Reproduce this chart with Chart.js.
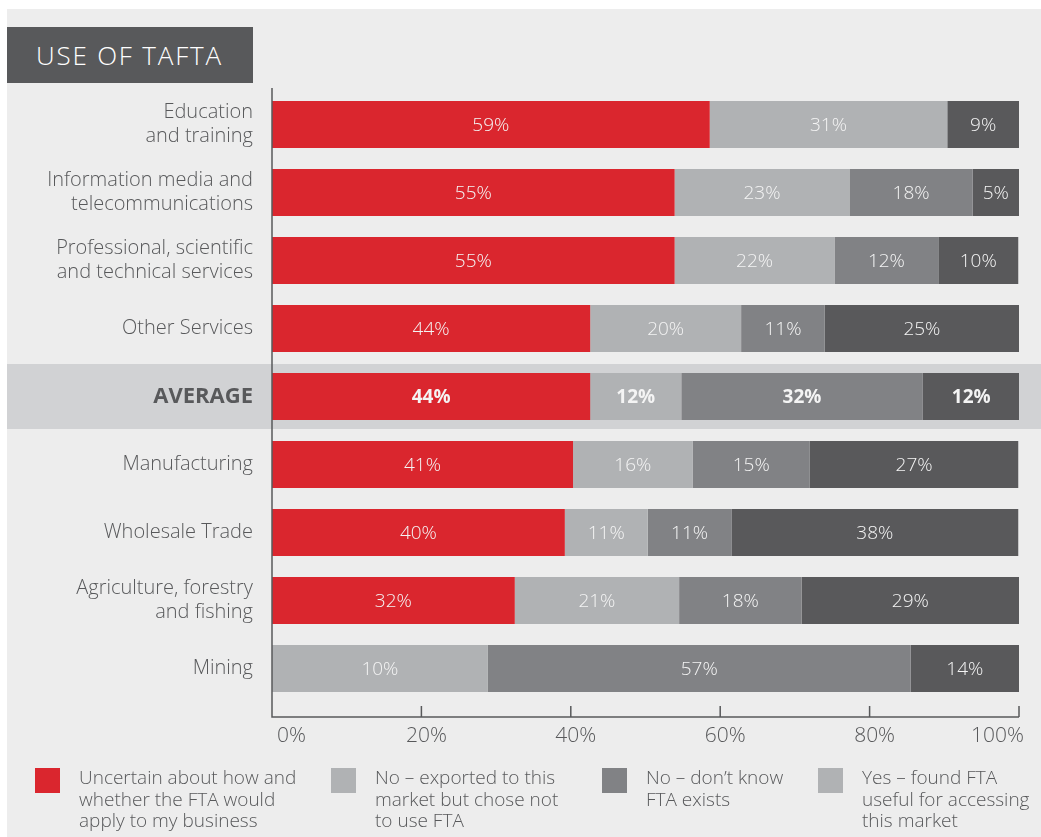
<!DOCTYPE html>
<html>
<head>
<meta charset="utf-8">
<title>Use of TAFTA</title>
<script src="https://cdn.jsdelivr.net/npm/chart.js@4.4.0/dist/chart.umd.min.js"></script>
<style>
    html, body { margin: 0; padding: 0; background: #fff; }
    body { width: 1041px; height: 837px; position: relative; overflow: hidden; font-family: 'Open Sans', Roboto, sans-serif; }
    #panel { position: absolute; left: 7px; top: 9px; right: 0; bottom: 0; background: #ededed; }
    #titulo { position: absolute; left: 7px; top: 27px; width: 246px; height: 56px; background: #58595b; color: #fff;
        font-size: 26px; font-weight: 300; letter-spacing: 1.8px; display: flex; align-items: center; padding-left: 29px; box-sizing: border-box; }
    #grafica { position: absolute; left: 0; top: 0; }
    .item { position: absolute; top: 767px; }
    .item .caja { position: absolute; left: 0; top: 1px; width: 25px; height: 25px; }
    .item .texto { position: absolute; left: 44px; top: 0; white-space: nowrap; font-size: 19px; line-height: 21.5px; color: #58595b; font-weight: 300; }
</style>
</head>
<body>
<div id="panel"></div>
<div id="titulo">USE OF TAFTA</div>
<canvas id="grafica" width="1041" height="837"></canvas>
<div id="leyenda"></div>

<script>
const categorias = [
    ['Education', 'and training'],
    ['Information media and', 'telecommunications'],
    ['Professional, scientific', 'and technical services'],
    'Other Services',
    'AVERAGE',
    'Manufacturing',
    'Wholesale Trade',
    ['Agriculture, forestry', 'and fishing'],
    'Mining'
];

const series = [
    ['Uncertain about how and', 'whether the FTA would', 'apply to my business'],
    ['No – exported to this', 'market but chose not', 'to use FTA'],
    ['No – don’t know', 'FTA exists'],
    ['Yes – found FTA', 'useful for accessing', 'this market']
];

// largo de cada barra
const incierto = [58.6, 53.9, 53.9, 42.6, 42.6, 40.3, 39.2, 32.5, 0];
const noUsoFTA = [31.8, 23.4, 21.4, 20.2, 12.2, 16.0, 11.1, 22.0, 28.9];
const noSabe = [0, 16.5, 13.9, 11.2, 32.3, 15.7, 11.2, 16.4, 56.6];
const siUtil = [9.6, 6.2, 10.7, 26.0, 13.0, 27.9, 38.4, 29.1, 14.5];

// porcentajes impresos sobre las barras
const textoIncierto = [59, 55, 55, 44, 44, 41, 40, 32, null];
const textoNoUso = [31, 23, 22, 20, 12, 16, 11, 21, 10];
const textoNoSabe = [null, 18, 12, 11, 32, 15, 11, 18, 57];
const textoSi = [9, 5, 10, 25, 12, 27, 38, 29, 14];

const ticksX = [0, 20, 40, 60, 80, 100];

const colores = ['#da262e', '#b0b2b4', '#818285', '#59595b'];
const coloresLeyenda = ['#da262e', '#b0b2b4', '#818285', '#b0b2b4'];
const filaPromedio = 4;
const gris = '#58595b';
const fuente = "'Open Sans', Roboto, sans-serif";

const valores = [incierto, noUsoFTA, noSabe, siUtil];
const textos = [textoIncierto, textoNoUso, textoNoSabe, textoSi];

const fondoPromedio = {
    id: 'fondoPromedio',
    beforeDraw(chart) {
        const { ctx, scales: { y } } = chart;
        const paso = y.getPixelForValue(1) - y.getPixelForValue(0);
        const alto = paso * 0.956;
        const centro = y.getPixelForValue(filaPromedio);
        ctx.save();
        ctx.fillStyle = '#d1d2d4';
        ctx.fillRect(7, centro - alto / 2, chart.width - 7, alto);
        ctx.restore();
    }
};

const ejes = {
    id: 'ejes',
    afterDraw(chart) {
        const { ctx, chartArea, scales: { x } } = chart;
        const base = chartArea.bottom + 14.5;
        ctx.save();
        ctx.strokeStyle = gris;
        ctx.lineWidth = 1.5;
        ctx.beginPath();
        ctx.moveTo(x.left, chartArea.top - 2.5);
        ctx.lineTo(x.left, base);
        ctx.lineTo(x.right, base);
        ticksX.forEach(v => {
            if (v === 0) return;
            const px = x.getPixelForValue(v);
            ctx.moveTo(px, base);
            ctx.lineTo(px, base - 11);
        });
        ctx.stroke();
        ctx.restore();
    }
};

const etiquetas = {
    id: 'etiquetas',
    afterDatasetsDraw(chart) {
        const { ctx } = chart;
        ctx.save();
        ctx.textAlign = 'center';
        ctx.textBaseline = 'middle';
        ctx.fillStyle = '#f4f4f4';
        chart.data.datasets.forEach((ds, i) => {
            const meta = chart.getDatasetMeta(i);
            meta.data.forEach((barra, j) => {
                const t = textos[i][j];
                if (t === null) return;
                const { x, base, y } = barra.getProps(['x', 'base', 'y'], true);
                ctx.font = (j === filaPromedio ? 'bold ' : '300 ') + '19px ' + fuente;
                ctx.fillText(t + '%', (x + base) / 2, y + 1);
            });
        });
        ctx.restore();
    }
};

const ctx = document.getElementById('grafica');

const grafica = new Chart(ctx, {
    type: 'bar',
    data: {
        labels: categorias,
        datasets: valores.map((v, i) => ({
            label: series[i].join(' '),
            data: v,
            backgroundColor: colores[i],
            borderWidth: 0,
            barPercentage: 0.69,
            categoryPercentage: 1
        }))
    },
    options: {
        indexAxis: 'y',
        responsive: false,
        animation: false,
        layout: {
            padding: { top: 90.5, right: 22, bottom: 74.5, left: 0 }
        },
        plugins: {
            legend: { display: false },
            tooltip: { enabled: false }
        },
        scales: {
            x: {
                stacked: true,
                min: 0,
                max: 100,
                grid: { display: false },
                border: { display: false },
                afterFit: s => { s.height = 60; },
                afterBuildTicks: s => { s.ticks = ticksX.map(v => ({ value: v })); },
                ticks: {
                    callback: v => v + '%',
                    align: 'inner',
                    labelOffset: 5,
                    padding: 13,
                    color: gris,
                    font: { family: fuente, size: 21, weight: '300' }
                }
            },
            y: {
                stacked: true,
                grid: { display: false, drawTicks: false },
                border: { display: false },
                afterFit: s => { s.width = 272; },
                ticks: {
                    padding: 19,
                    color: gris,
                    font: c => ({
                        family: fuente,
                        size: c.index === filaPromedio ? 22 : 20,
                        weight: c.index === filaPromedio ? 'bold' : '300',
                        lineHeight: 1.2
                    })
                }
            }
        }
    },
    plugins: [fondoPromedio, ejes, etiquetas]
});

// leyenda hecha a mano, como en la imagen original
const posicionesLeyenda = [35, 331, 602, 818];
const leyenda = document.querySelector('#leyenda');
series.forEach((lineas, i) => {
    const item = document.createElement('div');
    item.classList.add('item');
    item.style.left = posicionesLeyenda[i] + 'px';
    const caja = document.createElement('div');
    caja.classList.add('caja');
    caja.style.background = coloresLeyenda[i];
    const texto = document.createElement('div');
    texto.classList.add('texto');
    texto.innerHTML = lineas.join('<br>');
    item.appendChild(caja);
    item.appendChild(texto);
    leyenda.appendChild(item);
});
</script>
</body>
</html>
